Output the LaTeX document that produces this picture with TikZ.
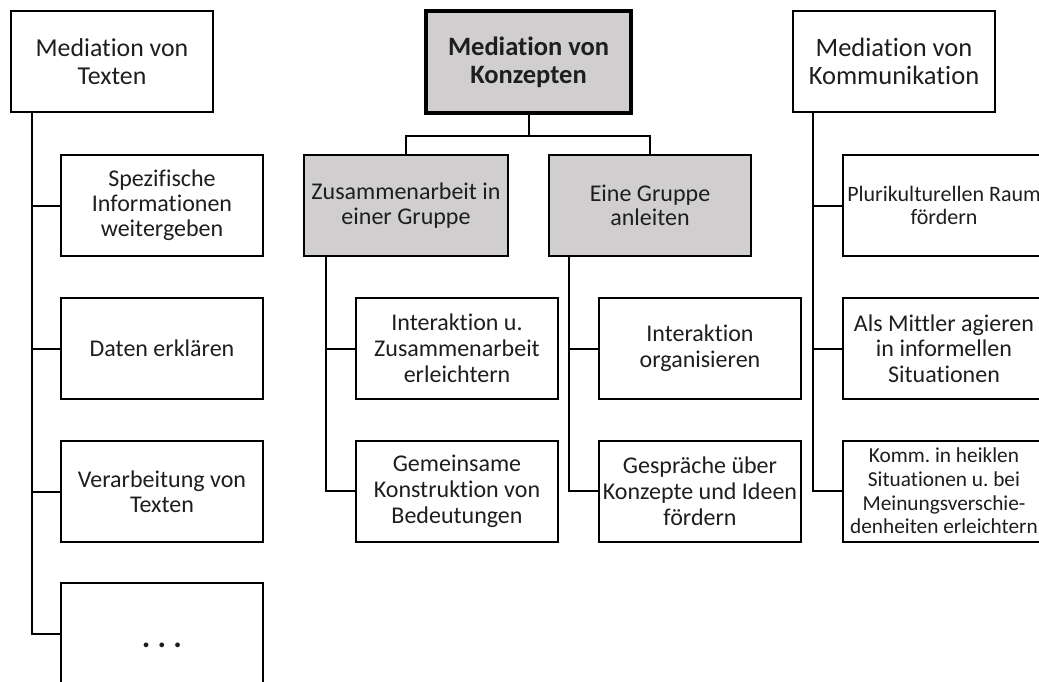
\documentclass[tikz,border=0pt]{standalone}
\usepackage{fontspec}
\setmainfont{Carlito}[Ligatures={NoCommon}]
\definecolor{boxgray}{RGB}{208,206,206}
\definecolor{ink}{RGB}{30,30,30}
\frenchspacing
\begin{document}
\begin{tikzpicture}[x=1pt,y=-1pt,
  box/.style={draw=black, line width=2pt, fill=white, text=ink, align=center,
    inner sep=0pt, minimum width=202pt, minimum height=101pt},
  gbox/.style={box, fill=boxgray},
  link/.style={draw=black, line width=2pt},
  fA/.style={font=\fontsize{25.8}{27.5}\selectfont},
  fA2/.style={font=\fontsize{26.5}{27.5}\selectfont},
  fB/.style={font=\fontsize{26.5}{28}\selectfont\bfseries},
  fC/.style={font=\fontsize{24}{25}\selectfont},
  fD/.style={font=\fontsize{24}{24.5}\selectfont},
  fE/.style={font=\fontsize{24}{26}\selectfont},
  fF/.style={font=\fontsize{22}{23}\selectfont},
  fR/.style={font=\fontsize{24}{25.5}\selectfont},
  fG/.style={font=\fontsize{21.3}{23.7}\selectfont},
  fDots/.style={font=\fontsize{32}{34}\selectfont\bfseries, text height=26pt, text depth=0pt}
]
\useasboundingbox (0,0) rectangle (1039,682);
\fill[white] (0,0) rectangle (1039,682);
\clip (0,0) rectangle (1039,682);

% left column
\node[box, fA] (lt) at (112,61.5) {Mediation von\\Texten};
\node[box, fC] (l1) at (162,205.5) {Spezifische\\Informationen\\weitergeben};
\node[box, fC] (l2) at (162,348.5) {Daten erklären};
\node[box, fC] (l3) at (162,491.5) {Verarbeitung von\\Texten};
\node[box, fDots, minimum height=102pt] (l4) at (162,634) {. . .};

\coordinate (ls) at ([xshift=22pt]lt.south west);
\draw[link] (ls) |- (l4.west);
\foreach \n in {l1,l2,l3} \draw[link] (\n.west) -- (\n.west -| ls);

% center column
\node[gbox, fB, line width=4pt, minimum width=205pt, minimum height=102pt] (ct) at (528.5,62) {Mediation von\\Konzepten};
\node[gbox, fD, minimum width=204pt] (c1) at (406,205.5) {Zusammenarbeit in\\einer Gruppe};
\node[gbox, fD] (c2) at (650,205.5) {Eine Gruppe\\anleiten};
\node[box, fE] (c11) at (457,348.5) {Interaktion u.\\Zusammenarbeit\\erleichtern};
\node[box, fE] (c12) at (457,491) {Gemeinsame\\Konstruktion von\\Bedeutungen};
\node[box, fE] (c21) at (700,348.5) {Interaktion\\organisieren};
\node[box, fE] (c22) at (700,491) {Gespräche über\\Konzepte und Ideen\\fördern};

\coordinate (cm) at ([yshift=-21pt]ct.south);
\draw[link] (ct.south) -- (cm);
\draw[link] (c1.north) |- (cm) -| (c2.north);

\coordinate (cs1) at ([xshift=22.5pt]c1.south west);
\draw[link] (cs1) |- (c12.west);
\draw[link] (c11.west) -- (c11.west -| cs1);
\coordinate (cs2) at ([xshift=21pt]c2.south west);
\draw[link] (cs2) |- (c22.west);
\draw[link] (c21.west) -- (c21.west -| cs2);

% right column
\node[box, fA2] (rt) at (894,61.5) {Mediation von\\Kommunikation};
\node[box, fF] (r1) at (944,205.5) {Plurikulturellen Raum\\fördern};
\node[box, fR] (r2) at (944,348.5) {Als Mittler agieren\\in informellen\\Situationen};
\node[box, fG] (r3) at (944,491) {Komm. in heiklen\\Situationen u. bei\\Meinungsverschie-\\denheiten erleichtern};

\coordinate (rs) at ([xshift=21pt]rt.south west);
\draw[link] (rs) |- (r3.west);
\foreach \n in {r1,r2} \draw[link] (\n.west) -- (\n.west -| rs);
\end{tikzpicture}
\end{document}
